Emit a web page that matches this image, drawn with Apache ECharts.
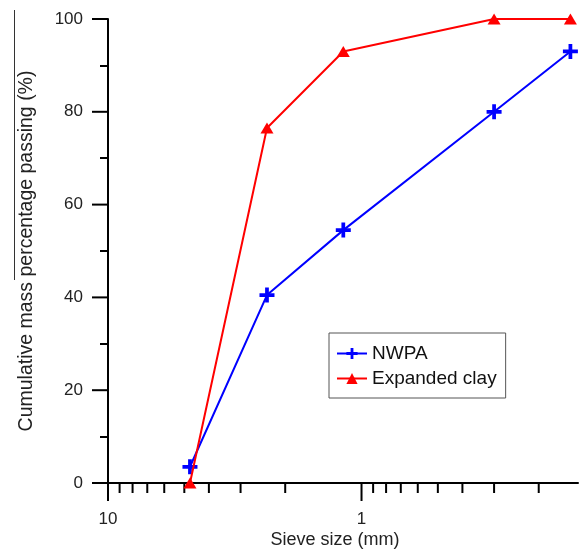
<!DOCTYPE html>
<html>
<head>
<meta charset="utf-8">
<script src="https://cdn.jsdelivr.net/npm/echarts@6/dist/echarts.min.js"></script>
<style>
html,body{margin:0;padding:0;background:#fff;}
#chart{width:579px;height:549px;}
</style>
</head>
<body>
<div id="chart"></div>
<script>
// Data
const sieveSizes = [4.75, 2.36, 1.18, 0.3, 0.15];
const nwpa = [3.5, 40.5, 54.5, 80, 93];
const expandedClay = [0, 76.5, 93, 100, 100];
const seriesNames = ['NWPA', 'Expanded clay'];
const xMajorTicks = [10, 1];
const xMajorLabels = ['10', '1'];
const xMinorTicks = [9, 8, 7, 6, 5, 4, 3, 2, 0.9, 0.8, 0.7, 0.6, 0.5, 0.4, 0.3, 0.2];
const yMajorTicks = [0, 20, 40, 60, 80, 100];
const xName = 'Sieve size (mm)';
const yName = 'Cumulative mass percentage passing (%)';

const FONT = '"Liberation Sans", Arial, sans-serif';
const plusPath = 'path://M6,0H10V6H16V10H10V16H6V10H0V6H6Z';

const chart = echarts.init(document.getElementById('chart'), null, {renderer: 'canvas'});

function xTickRenderer(isMajor) {
  return function (params, api) {
    const p = api.coord([api.value(0), 0]);
    const children = [{
      type: 'line',
      shape: {x1: p[0], y1: p[1], x2: p[0], y2: p[1] + (isMajor ? 18 : 10)},
      style: {stroke: '#000', lineWidth: 2}
    }];
    if (isMajor) {
      children.push({
        type: 'text',
        x: p[0], y: p[1] + 36,
        style: {
          text: xMajorLabels[params.dataIndex],
          fontSize: 17, fontFamily: FONT, fill: '#222',
          align: 'center', verticalAlign: 'middle'
        }
      });
    }
    return {type: 'group', children: children};
  };
}

function yTickRenderer(params, api) {
  const p = api.coord([api.value(0), api.value(1)]);
  return {
    type: 'line',
    shape: {x1: p[0] - 16, y1: p[1], x2: p[0], y2: p[1]},
    style: {stroke: '#000', lineWidth: 2}
  };
}

const option = {
  backgroundColor: '#fff',
  animation: false,
  grid: {left: 108, right: 1, top: 19, bottom: 66, containLabel: false, outerBoundsMode: 'none'},
  legend: {
    data: seriesNames,
    orient: 'vertical',
    left: 329, top: 333,
    itemWidth: 30, itemHeight: 14, itemGap: 6,
    padding: [11, 9, 10, 7],
    borderColor: '#555', borderWidth: 1,
    backgroundColor: '#fff',
    textStyle: {fontSize: 19, fontFamily: FONT, color: '#111'}
  },
  xAxis: {
    type: 'log', logBase: 10,
    min: 0.14, max: 10, inverse: true,
    name: xName, nameLocation: 'middle', nameGap: 48,
    nameTextStyle: {fontSize: 18, fontFamily: FONT, color: '#222', padding: [0, 16, 0, 0]},
    axisLine: {show: true, lineStyle: {color: '#000', width: 2}},
    axisTick: {show: false},
    axisLabel: {show: false},
    splitLine: {show: false},
    minorTick: {show: false}
  },
  yAxis: {
    type: 'value', min: 0, max: 100, interval: 20,
    name: yName, nameLocation: 'middle', nameGap: 71,
    nameTextStyle: {fontSize: 19.5, fontFamily: FONT, color: '#222'},
    axisLine: {show: true, lineStyle: {color: '#000', width: 2}},
    axisTick: {show: false},
    minorTick: {show: true, splitNumber: 2, length: 8, lineStyle: {color: '#000', width: 2}},
    axisLabel: {margin: 25, fontSize: 17, fontFamily: FONT, color: '#222'},
    splitLine: {show: false},
    minorSplitLine: {show: false}
  },
  graphic: [{
    type: 'line', silent: true,
    shape: {x1: 14.5, y1: 10, x2: 14.5, y2: 280},
    style: {stroke: '#333', lineWidth: 1}
  }],
  series: [
    {
      type: 'custom', name: 'xMajor', silent: true, clip: false, z: 1,
      renderItem: xTickRenderer(true),
      data: xMajorTicks.map(v => [v, 0])
    },
    {
      type: 'custom', name: 'xMinor', silent: true, clip: false, z: 1,
      renderItem: xTickRenderer(false),
      data: xMinorTicks.map(v => [v, 0])
    },
    {
      type: 'custom', name: 'yMajor', silent: true, clip: false, z: 1,
      renderItem: yTickRenderer,
      data: yMajorTicks.map(v => [10, v])
    },
    {
      name: seriesNames[0], type: 'line',
      data: sieveSizes.map((s, i) => [s, nwpa[i]]),
      symbol: plusPath, symbolSize: 15,
      lineStyle: {color: '#0000ff', width: 2},
      itemStyle: {color: '#0000ff'},
      clip: false, z: 3
    },
    {
      name: seriesNames[1], type: 'line',
      data: sieveSizes.map((s, i) => [s, expandedClay[i]]),
      symbol: 'triangle', symbolSize: [13, 11],
      lineStyle: {color: '#ff0000', width: 2},
      itemStyle: {color: '#ff0000'},
      clip: false, z: 4
    }
  ]
};
chart.setOption(option);
</script>
</body>
</html>
